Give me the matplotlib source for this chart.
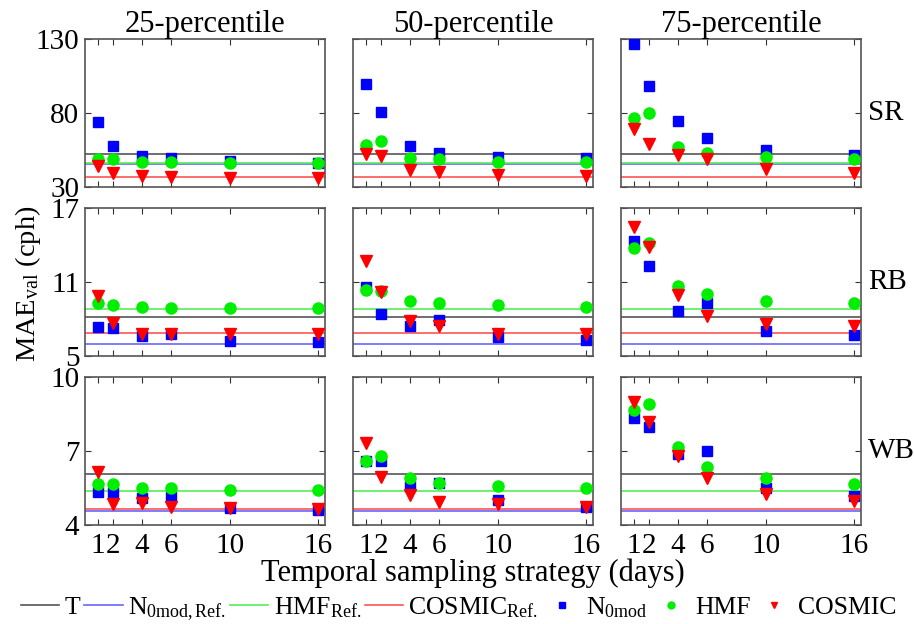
import matplotlib
matplotlib.use("Agg")
import matplotlib.pyplot as plt
from matplotlib.lines import Line2D

plt.rcParams['font.family'] = ['Liberation Serif', 'DejaVu Serif']
plt.rcParams['mathtext.fontset'] = 'custom'
plt.rcParams['mathtext.rm'] = 'Liberation Serif'
plt.rcParams['mathtext.it'] = 'Liberation Serif:italic'

days = [1, 2, 4, 6, 10, 16]
day_labels = ['1', '2', '4', '6', '10', '16']
percentiles = ['25-percentile', '50-percentile', '75-percentile']
sites = ['SR', 'RB', 'WB']
ylims = {'SR': (30, 130), 'RB': (5, 17), 'WB': (4, 10)}
yticks = {'SR': [30, 80, 130], 'RB': [5, 11, 17], 'WB': [4, 7, 10]}

# reference lines per site
ref_T = {'SR': 52.5, 'RB': 8.16, 'WB': 6.07}
ref_N0 = {'SR': 45.7, 'RB': 5.95, 'WB': 4.57}
ref_HMF = {'SR': 46.2, 'RB': 8.81, 'WB': 5.38}
ref_COS = {'SR': 36.5, 'RB': 6.84, 'WB': 4.64}

n0_SR_25 = [73.7, 57.7, 51.2, 49.6, 47.8, 46.2]
n0_SR_50 = [99.4, 80.7, 57.9, 53.2, 50.1, 49.4]
n0_SR_75 = [126.4, 98.2, 74.4, 63.1, 55.2, 51.6]
hmf_SR_25 = [48.7, 48.7, 46.7, 46.7, 46.2, 46.2]
hmf_SR_50 = [58.4, 61.3, 49.4, 48.7, 47.1, 46.9]
hmf_SR_75 = [76.6, 80.0, 57.2, 53.2, 50.5, 48.7]
cos_SR_25 = [44.4, 39.7, 37.7, 37.0, 36.3, 35.9]
cos_SR_50 = [52.1, 50.7, 41.5, 40.1, 38.1, 37.6]
cos_SR_75 = [69.2, 58.9, 51.4, 48.9, 42.2, 39.7]

n0_RB_25 = [7.38, 7.24, 6.62, 6.76, 6.19, 6.11]
n0_RB_50 = [10.57, 8.43, 7.46, 7.89, 6.54, 6.27]
n0_RB_75 = [14.32, 12.3, 8.62, 9.3, 7.05, 6.68]
hmf_RB_25 = [9.3, 9.16, 9.0, 8.92, 8.87, 8.87]
hmf_RB_50 = [10.38, 10.27, 9.46, 9.3, 9.11, 8.97]
hmf_RB_75 = [13.78, 14.19, 10.65, 10.05, 9.48, 9.3]
cos_RB_25 = [9.89, 7.65, 6.78, 6.81, 6.81, 6.8]
cos_RB_50 = [12.7, 10.16, 7.81, 7.46, 6.78, 6.78]
cos_RB_75 = [15.49, 13.81, 9.92, 8.24, 7.57, 7.43]

n0_WB_25 = [5.35, 5.35, 5.08, 5.14, 4.69, 4.62]
n0_WB_50 = [6.6, 6.58, 5.57, 5.69, 5.01, 4.74]
n0_WB_75 = [8.32, 7.96, 6.86, 6.98, 5.5, 5.16]
hmf_WB_25 = [5.66, 5.66, 5.51, 5.48, 5.42, 5.42]
hmf_WB_50 = [6.61, 6.81, 5.92, 5.69, 5.58, 5.5]
hmf_WB_75 = [8.66, 8.89, 7.15, 6.35, 5.92, 5.66]
cos_WB_25 = [6.14, 4.86, 4.88, 4.72, 4.70, 4.66]
cos_WB_50 = [7.34, 5.96, 5.2, 4.95, 4.86, 4.72]
cos_WB_75 = [8.97, 8.18, 6.81, 5.89, 5.24, 4.99]

data = {
    'SR': [(n0_SR_25, hmf_SR_25, cos_SR_25), (n0_SR_50, hmf_SR_50, cos_SR_50), (n0_SR_75, hmf_SR_75, cos_SR_75)],
    'RB': [(n0_RB_25, hmf_RB_25, cos_RB_25), (n0_RB_50, hmf_RB_50, cos_RB_50), (n0_RB_75, hmf_RB_75, cos_RB_75)],
    'WB': [(n0_WB_25, hmf_WB_25, cos_WB_25), (n0_WB_50, hmf_WB_50, cos_WB_50), (n0_WB_75, hmf_WB_75, cos_WB_75)],
}

c_T = '#555555'
c_N0line = '#6666ff'
c_HMFline = '#55ee55'
c_COSline = '#ff5555'
c_blue = '#0000ff'
c_green = '#00ee00'
c_red = '#ff0000'

fig, axes = plt.subplots(3, 3, figsize=(9.14, 6.24), dpi=100)
fig.subplots_adjust(left=0.093, right=0.942, top=0.9375, bottom=0.1587, wspace=0.117, hspace=0.142)

fs_tick = 21
fs_title = 22
for r, site in enumerate(sites):
    for c in range(3):
        ax = axes[r, c]
        n0, hmf, cos = data[site][c]
        ax.axhline(ref_T[site], color=c_T, lw=1.2, zorder=1)
        ax.axhline(ref_N0[site], color=c_N0line, lw=1.2, zorder=1)
        ax.axhline(ref_HMF[site], color=c_HMFline, lw=1.2, zorder=1)
        ax.axhline(ref_COS[site], color=c_COSline, lw=1.2, zorder=1)
        ax.plot(days, n0, 's', color=c_blue, ms=6.5, mec=c_blue, zorder=3)
        ax.plot(days, hmf, 'o', color=c_green, ms=8, mec=c_green, zorder=4)
        ax.plot(days, cos, 'v', color=c_red, ms=8, mec=c_red, zorder=5)
        ax.set_xlim(0.1, 16.5)
        ax.set_ylim(*ylims[site])
        ax.set_xticks(days)
        ax.set_yticks(yticks[site])
        ax.tick_params(direction='in', top=True, right=True, length=4, color='#333333',
                       labelsize=fs_tick)
        ax.tick_params(axis='x', pad=6)
        ax.tick_params(axis='y', pad=4)
        for sp in ax.spines.values():
            sp.set_color('#555555')
            sp.set_linewidth(1.2)
        if r == 2:
            ax.set_xticklabels(day_labels)
        else:
            ax.set_xticklabels([])
        if c != 0:
            ax.set_yticklabels([])
        if r == 0:
            ax.set_title(percentiles[c], fontsize=fs_title, pad=4)
        if c == 2:
            ax.text(1.03, 0.5, site, transform=ax.transAxes, fontsize=fs_tick,
                    va='center', ha='left')

fig.text(0.031, 0.545, r'MAE$_{\mathrm{val}}$ (cph)', rotation=90, fontsize=20.5,
         va='center', ha='center')
fig.text(0.517, 0.081, 'Temporal sampling strategy (days)', fontsize=22,
         va='center', ha='center')

handles = [
    Line2D([], [], color=c_T, lw=1.2),
    Line2D([], [], color=c_N0line, lw=1.2),
    Line2D([], [], color=c_HMFline, lw=1.2),
    Line2D([], [], color=c_COSline, lw=1.2),
    Line2D([], [], marker='s', ls='none', color=c_blue, ms=4.5),
    Line2D([], [], marker='o', ls='none', color=c_green, ms=5),
    Line2D([], [], marker='v', ls='none', color=c_red, ms=5),
]
labels = ['T', r'N$_{\mathrm{0mod,Ref.}}$', r'HMF$_{\mathrm{Ref.}}$', r'COSMIC$_{\mathrm{Ref.}}$',
          r'N$_{\mathrm{0mod}}$', 'HMF', 'COSMIC']
fig.legend(handles, labels, loc='center', bbox_to_anchor=(0.502, 0.024), ncol=7,
           frameon=False, fontsize=18.5, handlelength=1.5, handletextpad=0.2,
           columnspacing=0.15, borderaxespad=0, borderpad=0)

fig.savefig('out.png', dpi=100)
